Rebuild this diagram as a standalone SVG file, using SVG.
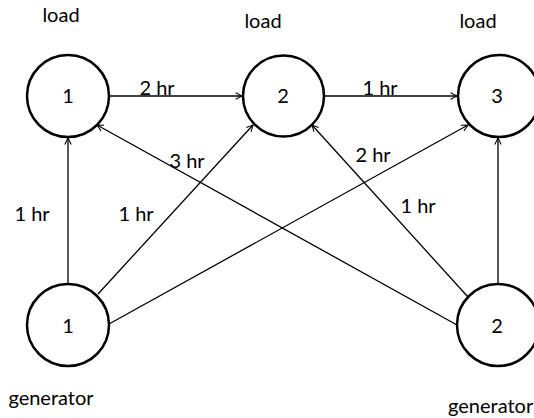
<svg xmlns="http://www.w3.org/2000/svg" width="534" height="418" viewBox="0 0 534 418">
<style>
.node circle{fill:#fff;stroke:#000;stroke-width:2.5}
text{font-family:Lato,"Open Sans","Liberation Sans",sans-serif;font-size:20px;fill:#000}
.num{text-anchor:middle}
.lbl{text-anchor:middle}
.edge{stroke:#000;stroke-width:1.3;fill:none;marker-end:url(#arr)}
</style>
<defs>
<marker id="arr" viewBox="0 0 10 10" refX="9" refY="5" markerWidth="8" markerHeight="8" markerUnits="userSpaceOnUse" orient="auto">
<path d="M1,1 L9,5 L1,9" fill="none" stroke="#000" stroke-width="1.3"/>
</marker>
</defs>
<rect width="534" height="418" fill="#fff"/>
<g id="connectors">
<line class="edge" x1="109" y1="96" x2="242" y2="96"/>
<line class="edge" x1="324" y1="96" x2="457" y2="96"/>
<line class="edge" x1="68" y1="284" x2="68" y2="138"/>
<line class="edge" x1="98" y1="294" x2="253" y2="125"/>
<line class="edge" x1="109" y1="324" x2="468" y2="125"/>
<line class="edge" x1="457" y1="325" x2="97" y2="125"/>
<line class="edge" x1="468" y1="297" x2="312" y2="125"/>
<line class="edge" x1="498" y1="284" x2="498" y2="138"/>
<text class="lbl" x="157" y="95">2 hr</text>
<text class="lbl" x="380" y="95">1 hr</text>
<text class="lbl" x="32" y="221">1 hr</text>
<text class="lbl" x="136" y="221">1 hr</text>
<text class="lbl" x="187" y="168">3 hr</text>
<text class="lbl" x="373" y="162">2 hr</text>
<text class="lbl" x="418" y="213">1 hr</text>
</g>
<g id="load1" class="node">
<circle cx="68" cy="96" r="41"/>
<text class="num" x="68" y="103">1</text>
<text class="lbl" x="61" y="22">load</text>
</g>
<g id="load2" class="node">
<circle cx="283.5" cy="96" r="40.5"/>
<text class="num" x="283" y="103">2</text>
<text class="lbl" x="263" y="28">load</text>
</g>
<g id="load3" class="node">
<circle cx="499" cy="96" r="41"/>
<text class="num" x="497" y="103">3</text>
<text class="lbl" x="478" y="28">load</text>
</g>
<g id="gen1" class="node">
<circle cx="68" cy="325" r="41"/>
<text class="num" x="68" y="333">1</text>
<text class="lbl" x="51" y="405">generator</text>
</g>
<g id="gen2" class="node">
<circle cx="498" cy="325" r="41"/>
<text class="num" x="497" y="333">2</text>
<text x="448" y="413">generator</text>
</g>
</svg>
